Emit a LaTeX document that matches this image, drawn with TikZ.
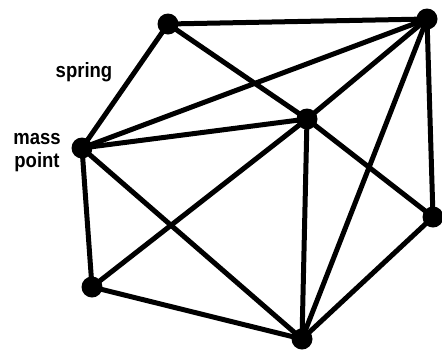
\documentclass[tikz,border=0pt]{standalone}
\usepackage{fontspec}
\setmainfont{Liberation Sans}
\begin{document}
\begin{tikzpicture}[x=1pt,y=-1pt,
  mass/.style={circle,fill=black,inner sep=0pt,minimum size=21pt},
  spr/.style={line width=5pt},
  lbl/.style={font=\fontsize{18.5}{20}\selectfont\bfseries,inner sep=0pt,yscale=1.12}]
\useasboundingbox (0,0) rectangle (442,349);
\node[mass] (A) at (168,24) {};
\node[mass] (B) at (427,19) {};
\node[mass] (C) at (82,148) {};
\node[mass] (D) at (307,119) {};
\node[mass] (E) at (433,217) {};
\node[mass] (F) at (92,287) {};
\node[mass] (G) at (302,339) {};
\foreach \u/\v in {A/B,A/C,A/D,C/B,C/D,C/F,C/G,F/D,F/G,D/G,B/D,B/G,B/E,E/G,D/E}
  \draw[spr] (\u.center) -- (\v.center);
\node[lbl,anchor=base] (s) at (84,77) {spring};
\node[lbl,anchor=base,align=center] (m) at (37,167) {mass\\point};
\end{tikzpicture}
\end{document}
